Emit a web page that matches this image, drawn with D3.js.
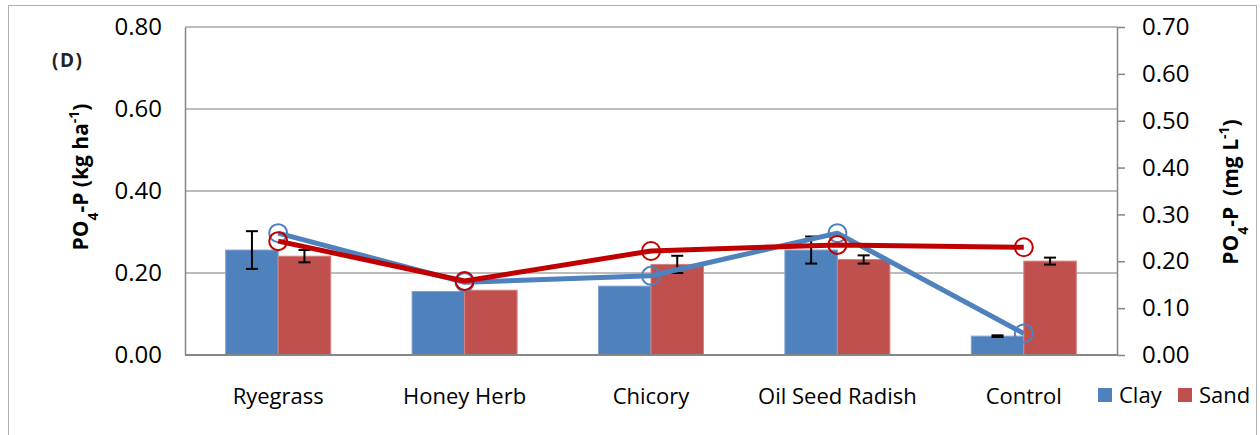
<!DOCTYPE html>
<html><head><meta charset="utf-8">
<script src="https://cdn.jsdelivr.net/npm/d3@7"></script>
<style>body{margin:0;background:#fff}svg{display:block;font-family:"Open Sans",sans-serif}</style>
</head><body><svg id="c" width="1260" height="435"></svg>
<script>
const categories = ["Ryegrass","Honey Herb","Chicory","Oil Seed Radish","Control"];
const series = ["Clay","Sand"];
// bars (left axis, kg ha-1)
const clayBar = [0.256,0.155,0.168,0.256,0.046];
const sandBar = [0.241,0.158,0.221,0.233,0.229];
const clayErr = [0.046,0,0,0.033,0.002];
const sandErr = [0.015,0,0.021,0.010,0.0085];
// lines (right axis, mg L-1)
const clayLine = [0.260,0.155,0.169,0.260,0.046];
const sandLine = [0.243,0.158,0.222,0.235,0.230];
const leftTicks = [0,0.2,0.4,0.6,0.8];
const rightTicks = [0,0.1,0.2,0.3,0.4,0.5,0.6,0.7];

const colors = {Clay:"#4F81BD", Sand:"#C0504D"};
const lineColors = {Clay:"#4F81BD", Sand:"#C00000"};

const svg = d3.select("#c");
const L=185, R=1117, T=27, B=355;
const x0 = d3.scaleBand().domain(categories).range([L,R]).paddingInner(0).paddingOuter(0);
const x1 = d3.scaleBand().domain(series).range([0,x0.bandwidth()]).paddingInner(0).paddingOuter(0.775);
const yL = d3.scaleLinear().domain([0,0.8]).range([B,T]);
const yR = d3.scaleLinear().domain([0,0.7]).range([B,T]);

// outer frame
svg.append("rect").attr("x",8.5).attr("y",5.5).attr("width",1248).attr("height",450)
  .attr("fill","none").attr("stroke","#B0B0B0").attr("stroke-width",1);

// gridlines
svg.append("g").selectAll("line").data(leftTicks.filter(d=>d>0)).join("line")
  .attr("x1",L).attr("x2",R).attr("y1",d=>yL(d)).attr("y2",d=>yL(d))
  .attr("stroke","#A6A6A6").attr("stroke-width",1.5);

// left axis
const gL = svg.append("g").attr("transform",`translate(${L},0)`)
  .call(d3.axisLeft(yL).tickValues(leftTicks).tickFormat(d3.format(".2f")).tickSize(0).tickPadding(23));
gL.select(".domain").attr("stroke","#868686").attr("stroke-width",1.5);
gL.selectAll("text").attr("font-size",24).attr("fill","#000").attr("font-family","Open Sans");

// right axis
const gR = svg.append("g").attr("transform",`translate(${R},0)`)
  .call(d3.axisRight(yR).tickValues(rightTicks).tickFormat(d3.format(".2f")).tickSize(8).tickPadding(17).tickSizeOuter(0));
gR.select(".domain").attr("stroke","#868686").attr("stroke-width",1.5);
gR.selectAll(".tick line").attr("stroke","#868686").attr("stroke-width",1.5);
gR.selectAll("text").attr("font-size",24).attr("fill","#000").attr("font-family","Open Sans");

// bars
const barData = series.flatMap(s => categories.map((c,i)=>({s,c,v:(s==="Clay"?clayBar:sandBar)[i],e:(s==="Clay"?clayErr:sandErr)[i]})));
svg.append("g").selectAll("rect").data(barData).join("rect")
  .attr("x",d=>x0(d.c)+x1(d.s)).attr("width",x1.bandwidth())
  .attr("y",d=>yL(d.v)).attr("height",d=>B-yL(d.v))
  .attr("fill",d=>colors[d.s]).attr("stroke",d=>d.s==="Clay"?"#7FA3D3":"#D8817E").attr("stroke-width",1);

// bottom axis line
svg.append("line").attr("x1",L).attr("x2",R).attr("y1",B).attr("y2",B).attr("stroke","#868686").attr("stroke-width",2);

// error bars
const eg = svg.append("g").attr("stroke","#000").attr("stroke-width",2);
barData.filter(d=>d.e>0).forEach(d=>{
  const cx = x0(d.c)+x1(d.s)+x1.bandwidth()/2;
  const y1 = yL(d.v+d.e), y2 = yL(d.v-d.e);
  eg.append("line").attr("x1",cx).attr("x2",cx).attr("y1",y1).attr("y2",y2);
  eg.append("line").attr("x1",cx-6).attr("x2",cx+6).attr("y1",y1).attr("y2",y1);
  eg.append("line").attr("x1",cx-6).attr("x2",cx+6).attr("y1",y2).attr("y2",y2);
});

// lines
const lineGen = d3.line().x(d=>d.x).y(d=>d.y);
[["Clay",clayLine],["Sand",sandLine]].forEach(([s,vals])=>{
  const pts = categories.map((c,i)=>({x:x0(c)+x0.bandwidth()/2, y:yR(vals[i])}));
  svg.append("path").datum(pts).attr("d",lineGen).attr("fill","none")
    .attr("stroke",lineColors[s]).attr("stroke-width",5).attr("stroke-linejoin","round");
  svg.append("g").selectAll("circle").data(pts).join("circle")
    .attr("cx",d=>d.x).attr("cy",d=>d.y).attr("r",9)
    .attr("fill","none").attr("stroke",lineColors[s]).attr("stroke-width",2);
});

// category labels
svg.append("g").selectAll("text").data(categories).join("text")
  .attr("x",c=>x0(c)+x0.bandwidth()/2).attr("y",404).attr("text-anchor","middle")
  .attr("font-size",22).text(c=>c);

// legend
const lg = svg.append("g");
[["Clay",1098,1119],["Sand",1178,1199]].forEach(([s,rx,tx])=>{
  lg.append("rect").attr("x",rx).attr("y",388).attr("width",14).attr("height",14).attr("fill",colors[s]);
  lg.append("text").attr("x",tx).attr("y",403).attr("font-size",22).text(s);
});

// y titles
function title(x,y,parts){
  const t = svg.append("text").attr("transform",`translate(${x},${y}) rotate(-90)`)
    .attr("text-anchor","middle").attr("font-weight","bold").attr("font-size",21)
    .style("white-space","pre");
  parts.forEach(([txt,shift])=>{
    const ts = t.append("tspan").text(txt);
    if(shift){ ts.attr("baseline-shift",shift).attr("font-size",14); }
  });
}
title(88,177,[["PO",null],["4","sub"],["-P (kg ha",null],["-1","super"],[")",null]]);
title(1238,192,[["PO",null],["4","sub"],["-P  (mg L",null],["-1","super"],[")",null]]);

svg.append("text").attr("x",52).attr("y",67).attr("font-weight","bold").attr("font-size",19)
  .attr("letter-spacing",1.5).attr("fill","#222").text("(D)");
</script></body></html>
